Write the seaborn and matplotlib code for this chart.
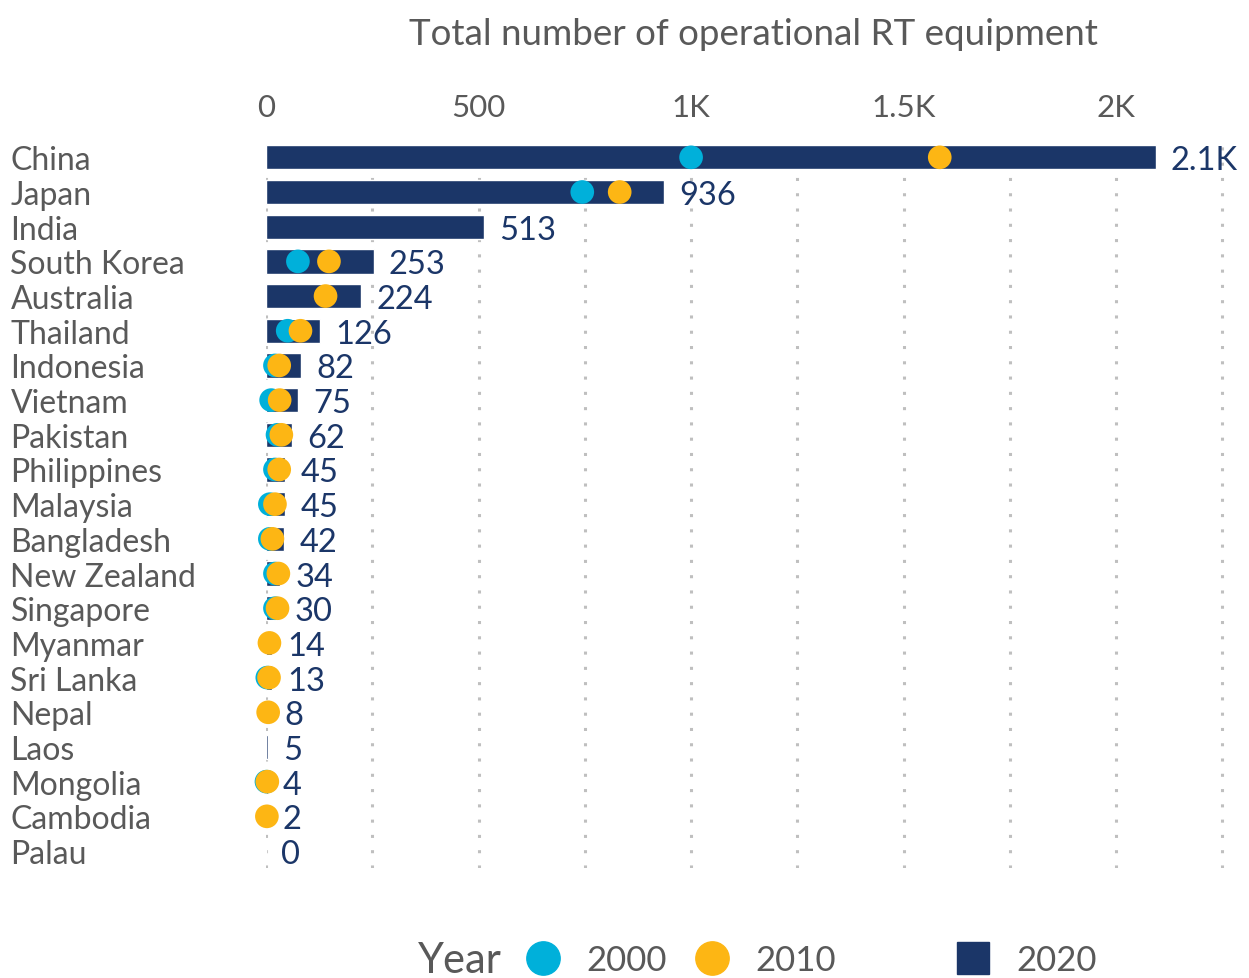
import numpy as np
import pandas as pd
import seaborn as sns
import matplotlib.pyplot as plt
from matplotlib.lines import Line2D
from matplotlib.ticker import FixedLocator, FuncFormatter

# data
countries = ['China', 'Japan', 'India', 'South Korea', 'Australia', 'Thailand',
             'Indonesia', 'Vietnam', 'Pakistan', 'Philippines', 'Malaysia',
             'Bangladesh', 'New Zealand', 'Singapore', 'Myanmar', 'Sri Lanka',
             'Nepal', 'Laos', 'Mongolia', 'Cambodia', 'Palau']
y2020 = [2093, 936, 513, 253, 224, 126, 82, 75, 62, 45, 45, 42, 34, 30, 14, 13, 8, 5, 4, 2, 0]
y2010 = [1585, 832, np.nan, 148, 140, 81, 31, 32, 36, 31, 21, 15, 29, 27, 8, 7, 5, np.nan, 3, 2, np.nan]
y2000 = [1000, 744, np.nan, 75, np.nan, 51, 21, 12, 27, 21, 9, 9, 21, 21, np.nan, 3, np.nan, np.nan, 1, np.nan, np.nan]
years = ['2000', '2010', '2020']

navy = '#1B3668'
blue = '#00B0DA'
orange = '#FDB614'
grey_text = '#595959'

sns.set_style('white')
plt.rcParams['font.family'] = ['Lato', 'DejaVu Sans']

bars = pd.DataFrame({'country': countries, 'value': y2020})
pos = {c: i for i, c in enumerate(countries)}
dots = pd.concat([
    pd.DataFrame({'country': countries, 'value': y2000, 'year': '2000'}),
    pd.DataFrame({'country': countries, 'value': y2010, 'year': '2010'}),
]).dropna()
dots['pos'] = dots['country'].map(pos)

fig = plt.figure(figsize=(12.49, 9.79), dpi=100)
ax = fig.add_axes([0.213, 0.112, 0.780, 0.744])

sns.barplot(data=bars, x='value', y='country', orient='h', color=navy,
            width=0.7, saturation=1, ax=ax, zorder=2)
sns.scatterplot(data=dots, x='value', y='pos', hue='year',
                palette={'2000': blue, '2010': orange}, s=290, linewidth=0,
                legend=False, ax=ax, zorder=3, clip_on=False)

def fmt(v, _=None):
    if v >= 1000:
        s = f'{v / 1000:.1f}'.rstrip('0').rstrip('.')
        return s + 'K'
    return f'{v:.0f}'

labels = ax.bar_label(ax.containers[0], labels=[fmt(v) for v in y2020], padding=11,
                      color=navy, fontsize=23.5)
for t in labels:
    t.set_verticalalignment('center_baseline')

ax.set_xlim(0, 2292)
ax.set_ylim(len(countries) - 0.5, -0.5)
ax.xaxis.tick_top()
ax.xaxis.set_label_position('top')
ax.xaxis.set_major_locator(FixedLocator([0, 500, 1000, 1500, 2000]))
ax.xaxis.set_minor_locator(FixedLocator([250, 750, 1250, 1750, 2250]))
ax.xaxis.set_major_formatter(FuncFormatter(fmt))
ax.grid(axis='x', which='both', color='#BFBFBF', linestyle=(0, (1, 4)), linewidth=2.2, zorder=0)
ax.set_axisbelow(True)
ax.tick_params(axis='x', which='both', length=0, labelsize=22.5, labelcolor=grey_text, pad=14)
ax.tick_params(axis='y', length=0, labelsize=23, labelcolor=grey_text, pad=184)
for lab in ax.get_yticklabels():
    lab.set_horizontalalignment('left')
ax.set_xlabel('Total number of operational RT equipment', fontsize=26.5,
              color=grey_text, labelpad=35)
ax.set_ylabel('')
sns.despine(ax=ax, left=True, bottom=True, top=True, right=True)

# legend at the bottom: title, the two dot years, then the bar year
fig.text(418 / 1249, 0.018, 'Year', fontsize=30, color=grey_text, va='center', ha='left')
dot_handles = [Line2D([], [], marker='o', ls='', color=blue, markersize=24),
               Line2D([], [], marker='o', ls='', color=orange, markersize=24)]
bar_handle = [Line2D([], [], marker='s', ls='', color=navy, markersize=23)]
leg1 = fig.legend(dot_handles, years[:2], loc='center', bbox_to_anchor=(681 / 1249, 0.018),
                  ncol=2, frameon=False, fontsize=25, handletextpad=0.75,
                  columnspacing=0.8, handlelength=1.0, borderpad=0, borderaxespad=0)
leg2 = fig.legend(bar_handle, years[2:], loc='center', bbox_to_anchor=(1026 / 1249, 0.018),
                  ncol=1, frameon=False, fontsize=25, handletextpad=0.75,
                  handlelength=1.0, borderpad=0, borderaxespad=0)
for leg in (leg1, leg2):
    for t in leg.get_texts():
        t.set_color(grey_text)

fig.savefig('out.png', dpi=100)
